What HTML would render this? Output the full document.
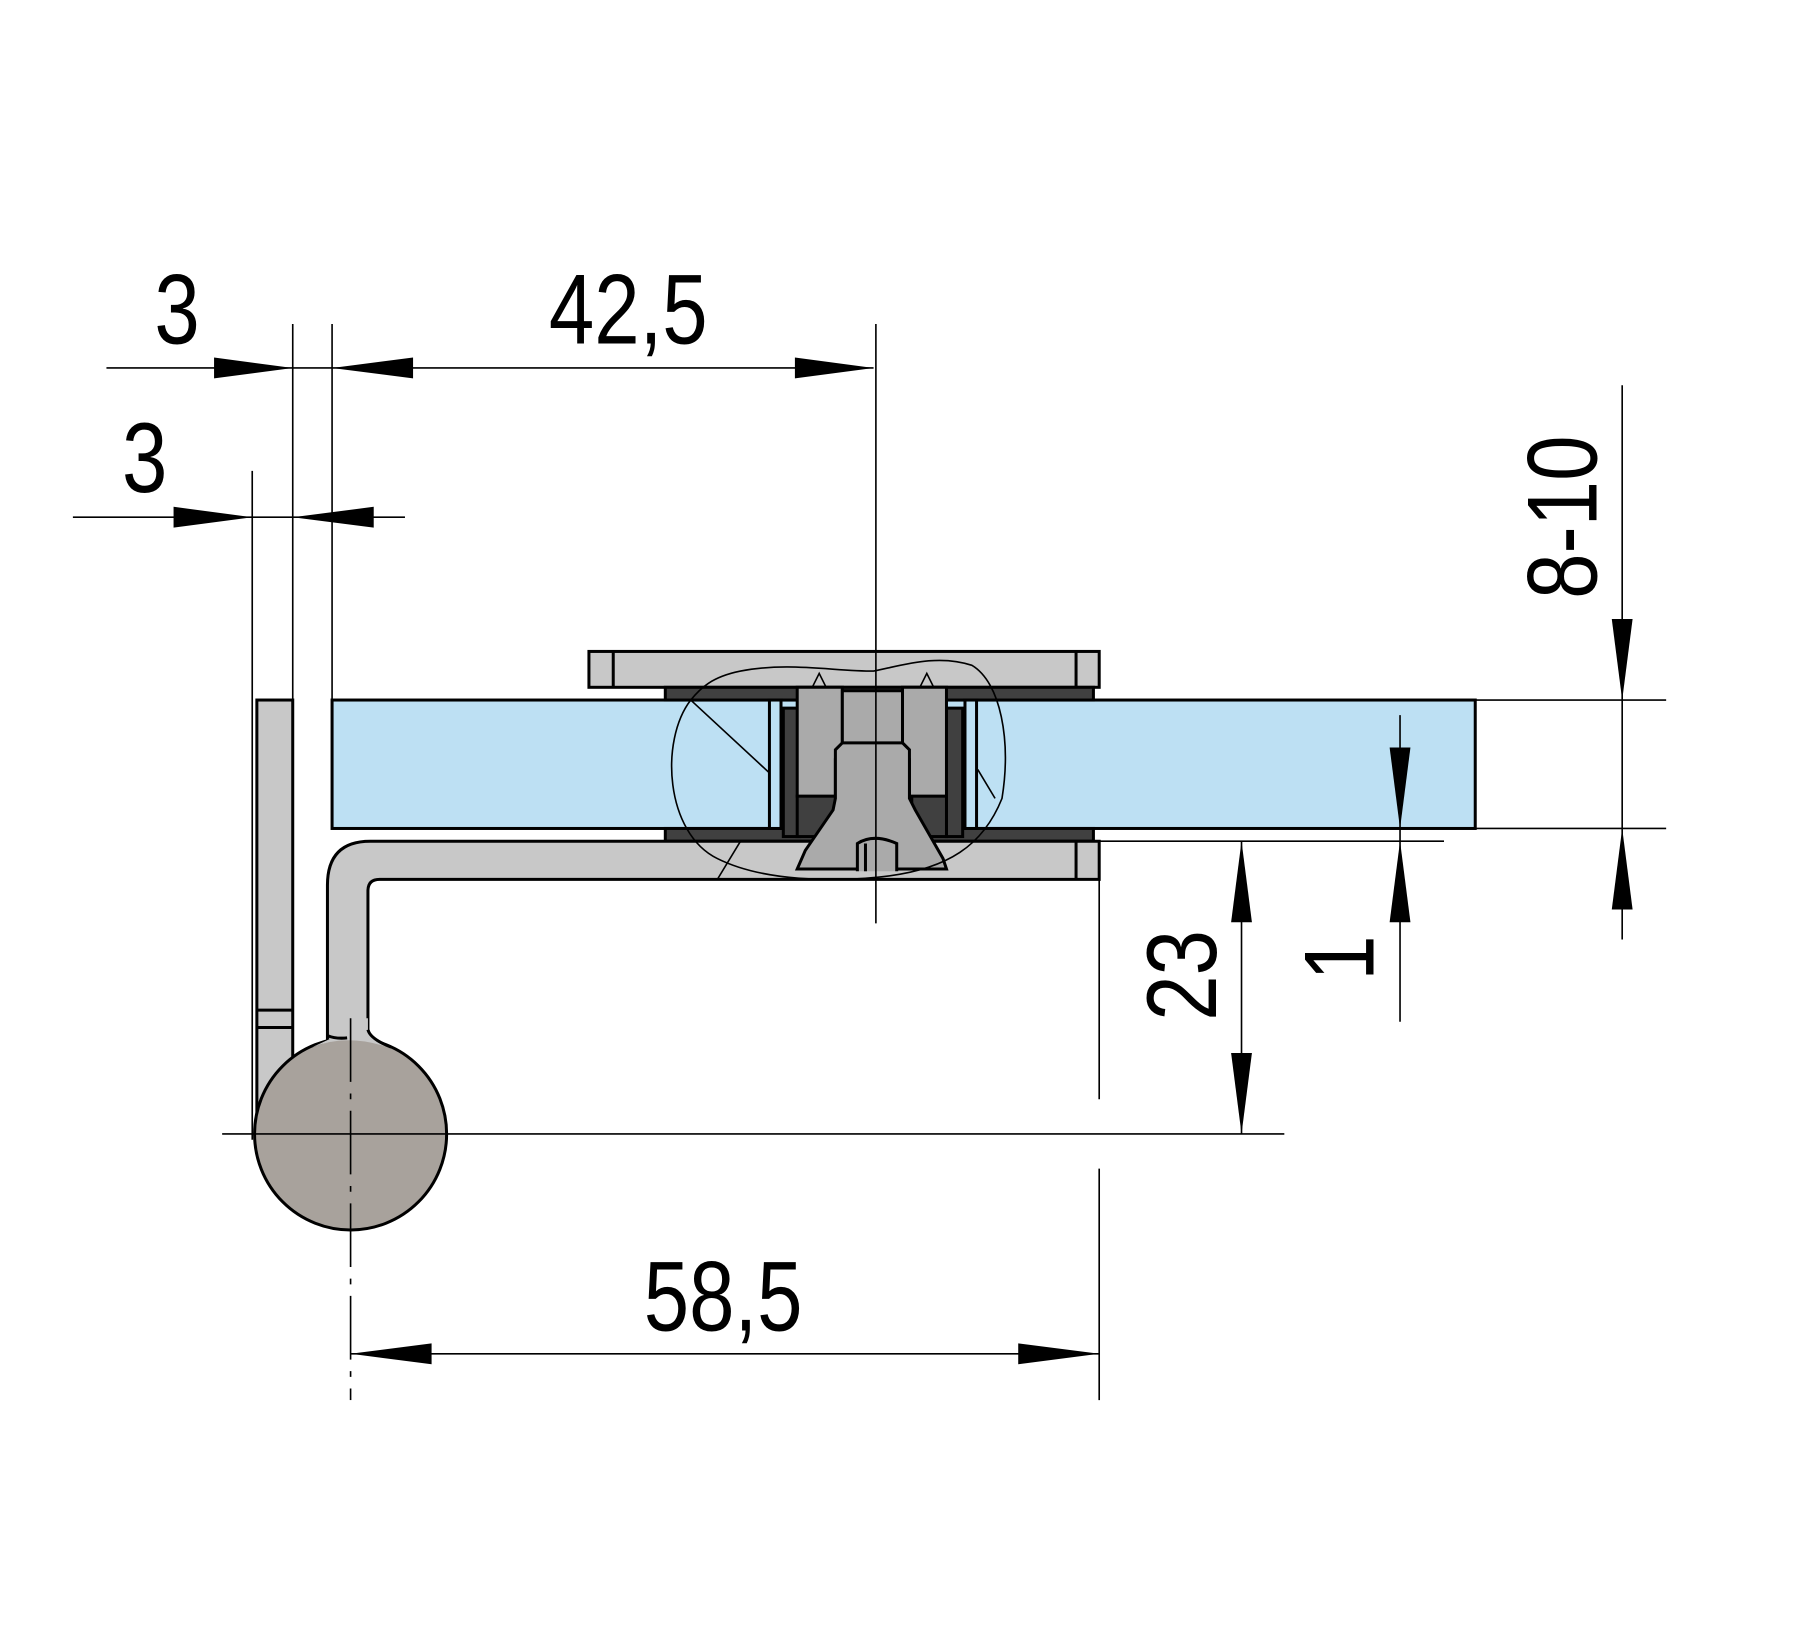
<!DOCTYPE html>
<html><head><meta charset="utf-8"><style>html,body{margin:0;padding:0;background:#fff}svg{display:block}</style></head>
<body>
<svg width="1805" height="1639" viewBox="0 0 1560 1416.5" preserveAspectRatio="none" xmlns="http://www.w3.org/2000/svg">
<defs>
<style>
text{font-family:"Liberation Sans",sans-serif;font-size:86px;fill:#000}
.t{stroke:#000;stroke-width:1.4;fill:none}
.o{stroke:#000;stroke-width:2.6}
</style>
</defs>
<rect width="1560" height="1417" fill="#fff"/>
<!-- left vertical plate -->
<rect x="222" y="605" width="31" height="380" fill="#c8c8c8" class="o"/>
<line x1="222" y1="873" x2="253" y2="873" class="o"/>
<line x1="222" y1="888" x2="253" y2="888" class="o"/>
<!-- glass -->
<rect x="287" y="605" width="988" height="111" fill="#bde0f3" class="o"/>
<!-- top clamp plate -->
<rect x="509" y="563" width="441" height="31" fill="#c8c8c8" class="o"/>
<line x1="530" y1="563" x2="530" y2="594" class="o"/>
<line x1="930" y1="563" x2="930" y2="594" class="o"/>
<!-- gaskets -->
<rect x="575" y="594" width="370" height="11" fill="#404040" class="o"/>
<rect x="575" y="716" width="370" height="11" fill="#404040" class="o"/>
<!-- bottom arm -->
<path d="M950,727 L320,727 Q283,727 283,765 L283,910 L325,910 L318,890 L318,770 Q318,760 328,760 L950,760 Z" fill="#c8c8c8" class="o"/>
<line x1="930" y1="727" x2="930" y2="760" class="o"/>
<!-- circle -->
<circle cx="303" cy="980" r="83" fill="#a8a29c" class="o"/>
<path d="M285,898 L285,880 L318,880 L318,892 Q322,900 335,905 Q300,893 270,905 Z" fill="#c8c8c8"/>
<path d="M283,895 Q290,898 300,897 M318,890 Q320,898 338,905" class="o" fill="none"/>
<!-- bolt section -->
<rect x="677" y="612" width="14" height="111" fill="#404040" class="o"/>
<rect x="818" y="612" width="14" height="111" fill="#404040" class="o"/>
<rect x="665" y="605" width="10" height="111" fill="#bde0f3" class="o"/>
<rect x="834" y="605" width="10" height="111" fill="#bde0f3" class="o"/>
<rect x="689" y="688" width="33" height="35" fill="#404040" class="o"/>
<rect x="788" y="688" width="30" height="35" fill="#404040" class="o"/>
<path d="M689,594 L728,594 L728,650 L722,656 L722,688 L689,688 Z" fill="#aaa" class="o"/>
<path d="M818,594 L780,594 L780,650 L786,656 L786,688 L818,688 Z" fill="#aaa" class="o"/>
<path d="M728,597 L780,597 L780,642 L786,648 L786,690 L791,700 L815,742 L818,751 L689,751 L696,735 L720,700 L722,690 L722,648 L728,642 Z" fill="#aaa" class="o"/>
<line x1="728" y1="642" x2="780" y2="642" class="o"/>
<path d="M741,753 L741,729 Q755,720 775,729 L775,753" fill="#aaa" class="o"/>
<line x1="748" y1="729" x2="748" y2="753" class="o"/>
<path d="M702,594 L708,582 L714,594 M795,594 L801,582 L807,594" fill="#aaa" class="t"/>
<!-- break-out outline -->
<path d="M597,605 C570,640 575,720 620,742 C660,762 720,762 760,758 C820,752 850,730 866,690 C874,640 865,590 840,575 C810,565 780,575 755,580 C720,580 680,572 640,580 C615,585 605,595 597,605 Z" class="t"/>
<line x1="597" y1="605" x2="665" y2="668" class="t"/>
<line x1="620" y1="760" x2="640" y2="727" class="t"/>
<line x1="845" y1="665" x2="860" y2="690" class="t"/>
<!-- centre lines -->
<line x1="757" y1="280" x2="757" y2="798" class="t"/>
<line x1="303" y1="880" x2="303" y2="1210" class="t" stroke-dasharray="55,10,5,10"/>
<line x1="192" y1="980" x2="1110" y2="980" class="t"/>
<!-- extension lines -->
<line x1="253" y1="280" x2="253" y2="605" class="t"/>
<line x1="287" y1="280" x2="287" y2="605" class="t"/>
<line x1="218" y1="407" x2="218" y2="985" class="t"/>
<line x1="950" y1="760" x2="950" y2="950" class="t"/>
<line x1="950" y1="1010" x2="950" y2="1210" class="t"/>
<line x1="950" y1="727" x2="1248" y2="727" class="t"/>
<line x1="1275" y1="605" x2="1440" y2="605" class="t"/>
<line x1="1275" y1="716" x2="1440" y2="716" class="t"/>
<!-- dimension lines -->
<line x1="92" y1="318" x2="755" y2="318" class="t"/>
<line x1="63" y1="447" x2="350" y2="447" class="t"/>
<line x1="303" y1="1170" x2="950" y2="1170" class="t"/>
<line x1="1073" y1="727" x2="1073" y2="980" class="t"/>
<line x1="1210" y1="618" x2="1210" y2="883" class="t"/>
<line x1="1402" y1="333" x2="1402" y2="812" class="t"/>
<!-- arrows -->
<g fill="#000">
<path d="M253,318 L185,309 L185,327 Z"/>
<path d="M287,318 L357,309 L357,327 Z"/>
<path d="M755,318 L687,309 L687,327 Z"/>
<path d="M218,447 L150,438 L150,456 Z"/>
<path d="M253,447 L323,438 L323,456 Z"/>
<path d="M303,1170 L373,1161 L373,1179 Z"/>
<path d="M950,1170 L880,1161 L880,1179 Z"/>
<path d="M1073,727 L1064,797 L1082,797 Z"/>
<path d="M1073,980 L1064,910 L1082,910 Z"/>
<path d="M1210,716 L1201,646 L1219,646 Z"/>
<path d="M1210,727 L1201,797 L1219,797 Z"/>
<path d="M1402,605 L1393,535 L1411,535 Z"/>
<path d="M1402,716 L1393,786 L1411,786 Z"/>
</g>
<!-- labels -->
<g transform="translate(153,297) scale(0.82,1)"><text text-anchor="middle">3</text></g>
<g transform="translate(543,297) scale(0.82,1)"><text text-anchor="middle">42,5</text></g>
<g transform="translate(125,425) scale(0.82,1)"><text text-anchor="middle">3</text></g>
<g transform="translate(625,1150) scale(0.82,1)"><text text-anchor="middle">58,5</text></g>
<g transform="translate(1051,843) rotate(-90) scale(0.82,1)"><text text-anchor="middle">23</text></g>
<g transform="translate(1187,828) rotate(-90) scale(0.82,1)"><text text-anchor="middle">1</text></g>
<g transform="translate(1380,447) rotate(-90) scale(0.82,1)"><text text-anchor="middle">8-10</text></g>
</svg>
</body></html>
